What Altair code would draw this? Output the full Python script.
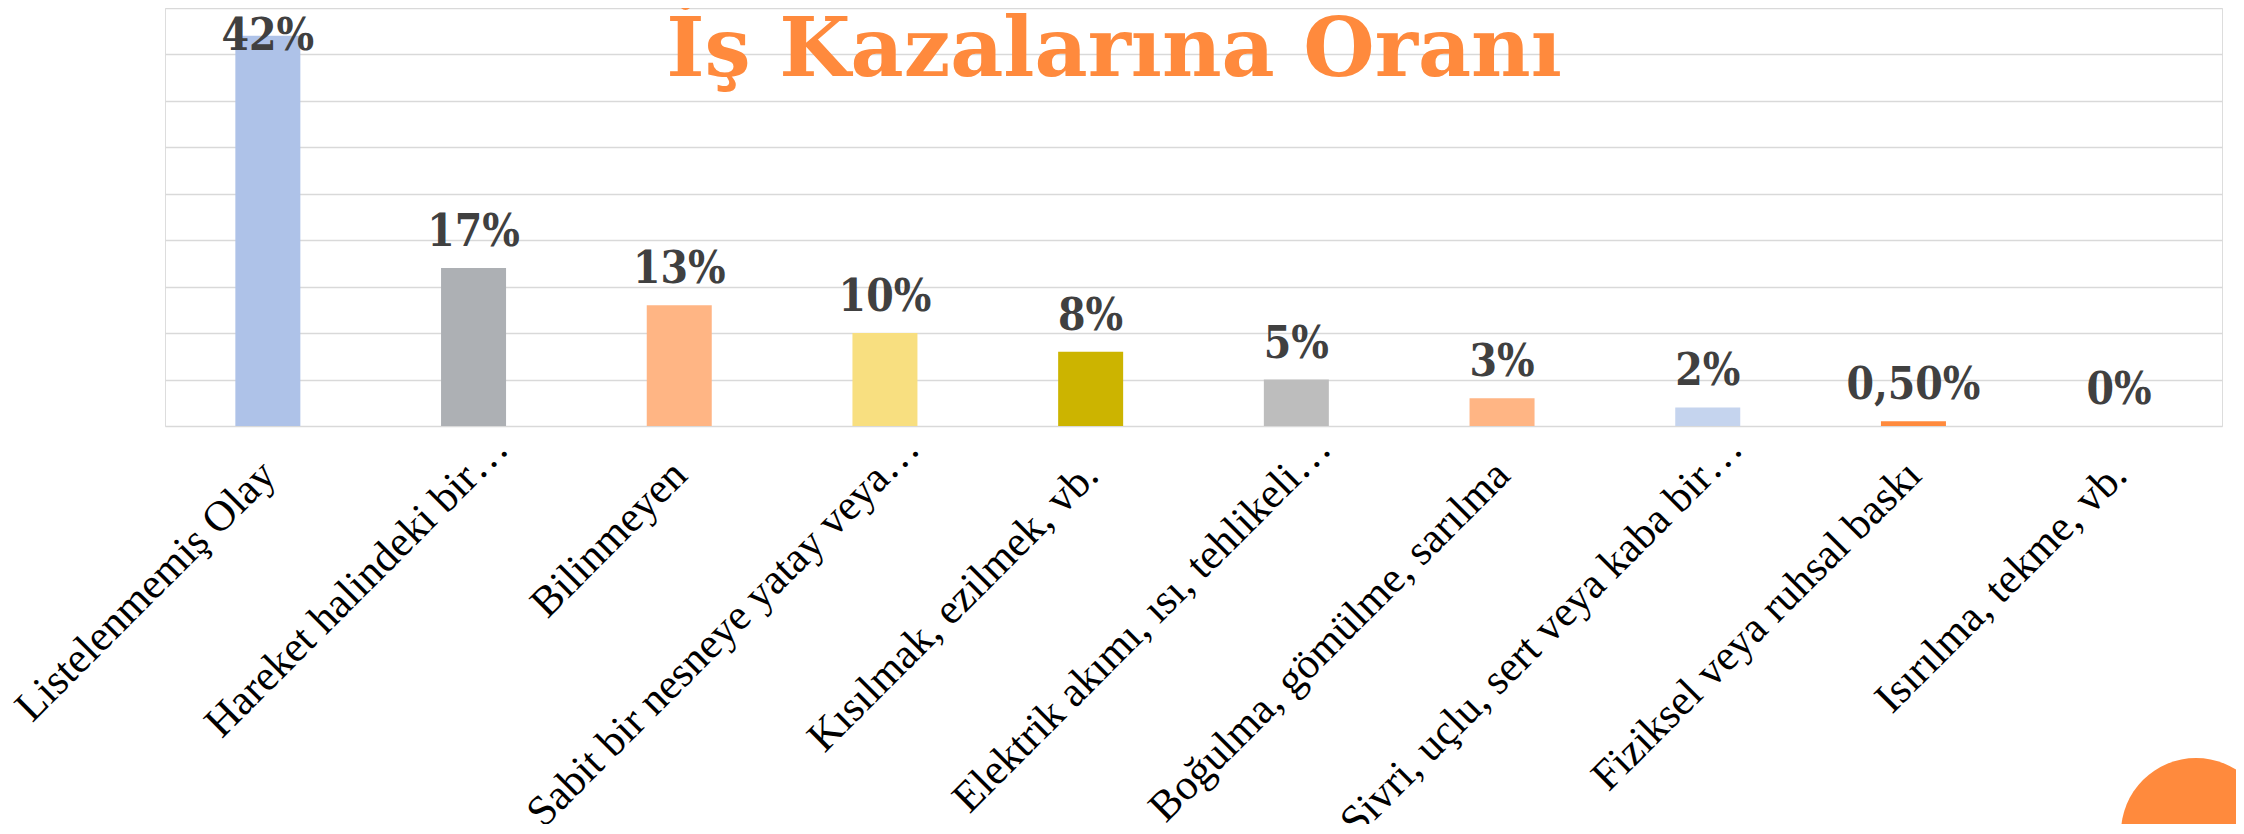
import altair as alt
import pandas as pd

# ---- data ----
categories = [
    "Listelenmemiş Olay",
    "Hareket halindeki bir…",
    "Bilinmeyen",
    "Sabit bir nesneye yatay veya…",
    "Kısılmak, ezilmek, vb.",
    "Elektrik akımı, ısı, tehlikeli…",
    "Boğulma, gömülme, sarılma",
    "Sivri, uçlu, sert veya kaba bir…",
    "Fiziksel veya ruhsal baskı",
    "Isırılma, tekme, vb.",
]
values = [42, 17, 13, 10, 8, 5, 3, 2, 0.5, 0]
value_labels = ["42%", "17%", "13%", "10%", "8%", "5%", "3%", "2%", "0,50%", "0%"]
title_text = "İş Kazalarına Oranı"

# ---- styles ----
bar_colors = ["#AEC2E8", "#ADB0B4", "#FFB584", "#F8DF80", "#CCB400",
              "#BDBDBD", "#FFB584", "#C5D4EE", "#FF8A3D", "#FFFFFF"]
ORANGE = "#FF8A3D"

df = pd.DataFrame({"cat": categories, "v": values, "lab": value_labels})

W, H = 2057, 418

x_enc = alt.X(
    "cat:N",
    sort=categories,
    title=None,
    scale=alt.Scale(paddingInner=0.684, paddingOuter=0.342),
    axis=alt.Axis(
        labelAngle=-45,
        labelAlign="right",
        labelBaseline="top",
        labelFont="Liberation Serif",
        labelFontSize=43,
        labelColor="#000000",
        labelLimit=1000,
        labelOverlap=False,
        labelBound=False,
        labelFlush=False,
        ticks=False,
        tickSize=0,
        domain=False,
        grid=False,
        labelOffset={"condition": {"test": "indexof(datum.value, '…') >= 0", "value": 13}, "value": -14},
        labelPadding={"condition": {"test": "indexof(datum.value, '…') >= 0", "value": 0}, "value": 27},
    ),
)

y_enc = alt.Y(
    "v:Q",
    title=None,
    scale=alt.Scale(domain=[0, 45], nice=False, zero=True),
    axis=alt.Axis(
        values=[0, 5, 10, 15, 20, 25, 30, 35, 40, 45],
        labels=False,
        ticks=False,
        domain=False,
        grid=True,
        gridColor="#D9D9D9",
        gridWidth=1.6,
    ),
)

bars = alt.Chart(df).mark_bar().encode(
    x=x_enc,
    y=y_enc,
    color=alt.Color("cat:N", scale=alt.Scale(domain=categories, range=bar_colors), legend=None),
)

labels = alt.Chart(df).transform_calculate(
    ly="min(datum.v, 38.1)"
).mark_text(
    font="DejaVu Serif Condensed, DejaVu Serif",
    fontWeight="bold",
    fontSize=44,
    color="#404040",
    align="center",
    baseline="alphabetic",
    dy=-22,
).encode(
    x=alt.X("cat:N", sort=categories),
    y=alt.Y("ly:Q"),
    text="lab:N",
)

title_layer = alt.Chart(pd.DataFrame({"t": [title_text]})).mark_text(
    font="DejaVu Serif",
    fontWeight="bold",
    fontSize=82,
    color=ORANGE,
    align="center",
    baseline="alphabetic",
).encode(
    x=alt.value(949),
    y=alt.value(68),
    text="t:N",
)

blob = alt.Chart(pd.DataFrame({"k": [1]})).mark_point(
    shape="circle", filled=True, color=ORANGE, opacity=1, size=22500, strokeWidth=0
).encode(
    x=alt.value(2031),
    y=alt.value(825),
)

chart = alt.layer(bars, labels, title_layer, blob).properties(
    width=W,
    height=H,
    autosize=alt.AutoSizeParams(type="none"),
    padding={"left": 157, "top": 0, "right": 14, "bottom": 398},
).configure_view(strokeWidth=0).configure(background="white")

chart.save("out.html", embed_options={"renderer": "svg", "actions": False})
